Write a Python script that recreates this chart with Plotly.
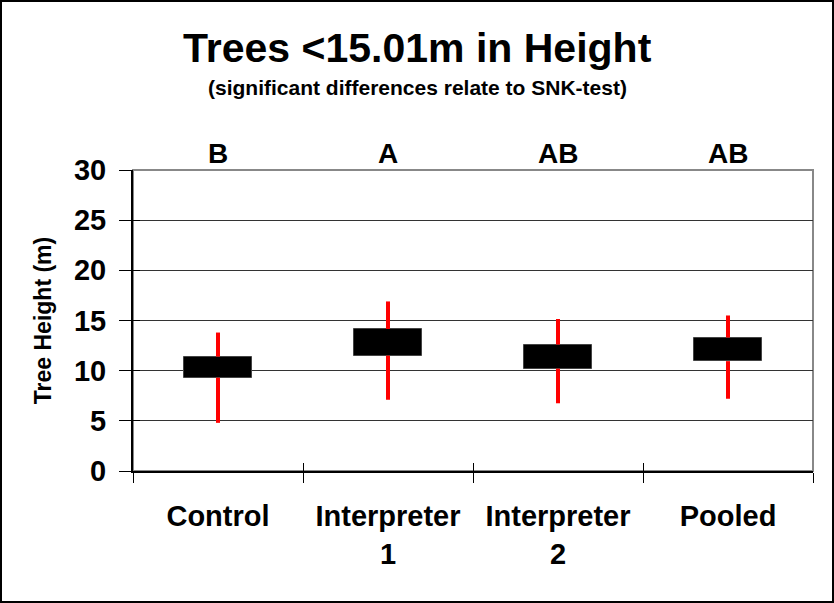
import plotly.graph_objects as go

categories = ["Control", "Interpreter<br>1", "Interpreter<br>2", "Pooled"]
box_low = [9.3, 11.5, 10.2, 10.95]
box_high = [11.4, 14.15, 12.6, 13.3]
whisker_low = [4.8, 7.1, 6.75, 7.2]
whisker_high = [13.8, 16.9, 15.15, 15.5]
letters = ["B", "A", "AB", "AB"]
y_ticks = [0, 5, 10, 15, 20, 25, 30]

FONT = "Liberation Sans, Arial, sans-serif"
W, H = 834, 603
ML, MR, MT, MB = 133, 21, 170, 132
PW, PH = W - ML - MR, H - MT - MB

fig = go.Figure()

# whiskers (split into lower and upper parts so they sit behind the box)
wx, wy = [], []
for c, lo, q1, q3, hi in zip(categories, whisker_low, box_low, box_high, whisker_high):
    wx += [c, c, None, c, c, None]
    wy += [lo, q1, None, q3, hi, None]
fig.add_trace(go.Scatter(x=wx, y=wy, mode="lines",
                         line=dict(color="#FF0000", width=4),
                         showlegend=False, hoverinfo="skip"))

fig.add_trace(go.Bar(x=categories,
                     y=[h - l for l, h in zip(box_low, box_high)],
                     base=box_low, width=0.4,
                     marker=dict(color="black", line=dict(color="#444", width=1)),
                     showlegend=False))

# invisible trace for the inside-tick overlay axes
fig.add_trace(go.Scatter(x=categories, y=[None] * 4, xaxis="x2", yaxis="y2",
                         mode="markers", showlegend=False, hoverinfo="skip"))

fig.update_layout(
    width=W, height=H,
    margin=dict(l=ML, r=MR, t=MT, b=MB),
    paper_bgcolor="white", plot_bgcolor="white",
    font=dict(family=FONT, color="black", weight="bold"),
    bargap=0,
    xaxis=dict(type="category", categoryorder="array", categoryarray=categories,
               range=[-0.5, 3.5], tickson="boundaries", ticks="outside",
               ticklen=10, tickwidth=1, tickcolor="black",
               showline=True, linecolor="black", linewidth=2,
               showgrid=False, tickfont=dict(size=29, family=FONT, weight="bold"),
               ticklabelstandoff=18),
    yaxis=dict(range=[0, 30], tickvals=y_ticks, ticks="outside", ticklen=12,
               tickwidth=1, tickcolor="black",
               showline=True, linecolor="black", linewidth=2,
               showgrid=True, gridcolor="#333", gridwidth=1,
               zeroline=False,
               tickfont=dict(size=29, family=FONT, weight="bold"),
               ticklabelstandoff=7,
               title=dict(text="Tree Height (m)", standoff=16,
                          font=dict(size=23, family=FONT, weight="bold"))),
    xaxis2=dict(type="category", categoryorder="array", categoryarray=categories,
                range=[-0.5, 3.5], overlaying="x", anchor="y2",
                tickson="boundaries", ticks="inside", ticklen=8,
                tickcolor="black", showticklabels=False, showgrid=False,
                showline=False, zeroline=False),
    yaxis2=dict(range=[0, 30], tickvals=y_ticks, overlaying="y", anchor="x2",
                ticks="inside", ticklen=7, tickcolor="black",
                showticklabels=False, showgrid=False, showline=False,
                zeroline=False),
)

# gray top/right frame of the plot area
fig.add_shape(type="rect", xref="paper", yref="paper", x0=0, y0=0, x1=1, y1=1,
              line=dict(color="#888", width=2), layer="below")

# outer black border of the picture
fig.add_shape(type="rect", xref="paper", yref="paper",
              x0=(-ML + 1) / PW, x1=(PW + MR - 1) / PW,
              y0=(-MB + 1) / PH, y1=(PH + MT - 1) / PH,
              line=dict(color="black", width=2))

fig.add_annotation(text="Trees <15.01m in Height", xref="paper", yref="paper",
                   x=(417 - ML) / PW, y=1, yshift=170 - 48, yanchor="middle",
                   showarrow=False, font=dict(size=41, family=FONT, weight="bold"))
fig.add_annotation(text="(significant differences relate to SNK-test)",
                   xref="paper", yref="paper",
                   x=(417 - ML) / PW, y=1, yshift=170 - 87, yanchor="middle",
                   showarrow=False, font=dict(size=21, family=FONT, weight="bold"))

for c, t in zip(categories, letters):
    fig.add_annotation(text=t, x=c, xref="x", yref="paper", y=1, yshift=17,
                       yanchor="middle", showarrow=False,
                       font=dict(size=28, family=FONT, weight="bold"))

fig.write_html("out.html", config={"displayModeBar": False},
               post_script="document.body.style.margin='0';document.body.style.overflow='hidden';")
